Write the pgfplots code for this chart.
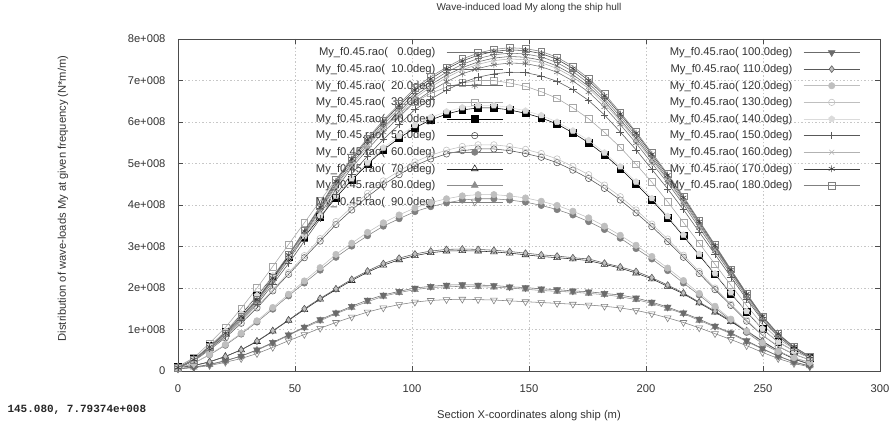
\documentclass[border=0pt]{standalone}
\usepackage{fontspec}
\setmainfont{Liberation Sans}
\newfontfamily\readoutfont{Liberation Mono}
\usepackage{pgfplots}
\usepackage{pgfplotstable}
\pgfplotsset{compat=1.18}

% Section loads My (units of 1e8 N*m/m), headings 0--90 deg
\pgfplotstableread{
x      d0   d10  d20  d30  d40  d50  d60  d70  d80  d90
0      0.08 0.08 0.07 0.11 0.10 0.08 0.06 0.09 0.06 0.05
6.75   0.27 0.27 0.26 0.32 0.29 0.24 0.19 0.13 0.09 0.08
13.5   0.57 0.57 0.56 0.67 0.60 0.51 0.39 0.22 0.15 0.13
20.25  0.90 0.89 0.87 1.05 0.95 0.80 0.62 0.35 0.24 0.21
27     1.30 1.29 1.26 1.51 1.36 1.15 0.89 0.51 0.36 0.30
33.75  1.70 1.68 1.65 2.00 1.81 1.52 1.18 0.71 0.50 0.42
40.5   2.22 2.20 2.15 2.52 2.28 1.93 1.49 0.96 0.67 0.57
47.25  2.76 2.73 2.67 3.05 2.76 2.33 1.81 1.22 0.86 0.73
54     3.33 3.30 3.23 3.57 3.23 2.73 2.12 1.48 1.04 0.88
60.75  3.91 3.87 3.78 4.10 3.71 3.13 2.43 1.73 1.21 1.03
67.5   4.52 4.47 4.38 4.62 4.18 3.53 2.74 1.96 1.38 1.17
74.25  5.06 5.00 4.90 5.08 4.60 3.88 3.01 2.18 1.53 1.30
81     5.52 5.46 5.34 5.50 4.98 4.20 3.26 2.38 1.67 1.42
87.75  5.94 5.87 5.75 5.88 5.33 4.49 3.49 2.55 1.80 1.52
94.5   6.32 6.25 6.12 6.20 5.61 4.73 3.67 2.68 1.89 1.60
101.25 6.70 6.63 6.49 6.48 5.86 4.95 3.84 2.78 1.96 1.66
108    6.97 6.90 6.75 6.69 6.05 5.11 3.96 2.85 2.01 1.70
114.75 7.20 7.13 6.97 6.84 6.19 5.23 4.05 2.89 2.03 1.72
121.5  7.39 7.31 7.16 6.94 6.29 5.31 4.12 2.90 2.04 1.73
128.25 7.53 7.45 7.29 7.00 6.34 5.35 4.15 2.89 2.03 1.72
135    7.62 7.54 7.38 7.00 6.34 5.35 4.15 2.87 2.02 1.71
141.75 7.66 7.58 7.42 6.94 6.29 5.31 4.12 2.84 2.00 1.69
148.5  7.64 7.56 7.41 6.86 6.21 5.24 4.07 2.80 1.97 1.67
155.25 7.57 7.49 7.33 6.73 6.10 5.15 3.99 2.76 1.94 1.65
162    7.43 7.35 7.20 6.57 5.95 5.02 3.89 2.73 1.92 1.63
168.75 7.22 7.14 6.99 6.34 5.74 4.84 3.76 2.70 1.90 1.61
175.5  6.93 6.86 6.72 6.08 5.50 4.64 3.60 2.66 1.87 1.59
182.25 6.56 6.50 6.36 5.75 5.21 4.40 3.41 2.57 1.84 1.56
189    6.13 6.06 5.94 5.39 4.88 4.12 3.20 2.48 1.79 1.52
195.75 5.67 5.61 5.49 4.98 4.51 3.81 2.95 2.36 1.72 1.46
202.5  5.17 5.12 5.01 4.55 4.12 3.48 2.70 2.22 1.63 1.38
209.25 4.67 4.62 4.53 4.08 3.70 3.12 2.42 2.04 1.51 1.28
216    4.14 4.09 4.01 3.58 3.25 2.74 2.12 1.86 1.38 1.17
222.75 3.56 3.52 3.45 3.08 2.79 2.35 1.83 1.64 1.22 1.04
229.5  2.99 2.96 2.89 2.57 2.33 1.96 1.52 1.42 1.06 0.90
236.25 2.41 2.39 2.34 2.07 1.87 1.58 1.22 1.19 0.90 0.76
243    1.84 1.82 1.78 1.58 1.43 1.20 0.93 0.96 0.71 0.61
249.75 1.30 1.29 1.26 1.12 1.01 0.86 0.66 0.71 0.53 0.45
256.5  0.88 0.87 0.85 0.77 0.70 0.59 0.46 0.48 0.36 0.30
263.25 0.57 0.57 0.56 0.53 0.48 0.40 0.31 0.29 0.21 0.18
270    0.34 0.34 0.33 0.35 0.32 0.27 0.21 0.16 0.12 0.10
}\tabA

% Headings 100--180 deg
\pgfplotstableread{
x      d100 d110 d120 d130 d140 d150 d160 d170 d180
0      0.06 0.09 0.06 0.08 0.10 0.07 0.08 0.08 0.08
6.75   0.09 0.13 0.19 0.25 0.29 0.25 0.26 0.27 0.27
13.5   0.16 0.22 0.40 0.52 0.61 0.54 0.56 0.58 0.58
20.25  0.25 0.35 0.64 0.82 0.96 0.84 0.88 0.91 0.91
27     0.36 0.51 0.91 1.17 1.38 1.22 1.28 1.32 1.32
33.75  0.51 0.72 1.21 1.55 1.82 1.60 1.67 1.72 1.73
40.5   0.69 0.97 1.53 1.96 2.30 2.09 2.18 2.24 2.26
47.25  0.87 1.23 1.85 2.37 2.78 2.59 2.71 2.79 2.80
54     1.06 1.50 2.17 2.78 3.26 3.13 3.27 3.37 3.39
60.75  1.24 1.75 2.49 3.19 3.74 3.67 3.84 3.95 3.97
67.5   1.40 1.98 2.81 3.60 4.22 4.25 4.44 4.57 4.60
74.25  1.56 2.21 3.08 3.95 4.64 4.75 4.96 5.11 5.14
81     1.71 2.41 3.34 4.28 5.02 5.18 5.41 5.57 5.61
87.75  1.83 2.59 3.57 4.58 5.38 5.58 5.83 6.00 6.04
94.5   1.92 2.72 3.76 4.82 5.66 5.94 6.20 6.39 6.43
101.25 2.00 2.82 3.93 5.04 5.92 6.30 6.58 6.77 6.82
108    2.04 2.89 4.06 5.20 6.11 6.55 6.84 7.04 7.09
114.75 2.07 2.93 4.15 5.32 6.25 6.77 7.07 7.28 7.32
121.5  2.08 2.94 4.22 5.41 6.35 6.95 7.26 7.47 7.52
128.25 2.07 2.93 4.25 5.45 6.40 7.08 7.39 7.61 7.66
135    2.06 2.91 4.25 5.45 6.40 7.16 7.48 7.70 7.75
141.75 2.03 2.88 4.22 5.41 6.35 7.20 7.52 7.74 7.79
148.5  2.01 2.84 4.17 5.34 6.27 7.19 7.50 7.72 7.77
155.25 1.98 2.80 4.09 5.24 6.16 7.11 7.43 7.65 7.70
162    1.96 2.77 3.99 5.11 6.00 6.98 7.29 7.51 7.56
168.75 1.93 2.73 3.85 4.93 5.79 6.78 7.08 7.29 7.34
175.5  1.91 2.70 3.69 4.73 5.56 6.52 6.81 7.00 7.05
182.25 1.87 2.60 3.49 4.48 5.26 6.17 6.44 6.63 6.68
189    1.83 2.51 3.27 4.20 4.93 5.76 6.02 6.19 6.23
195.75 1.76 2.40 3.03 3.88 4.56 5.33 5.56 5.73 5.76
202.5  1.66 2.25 2.76 3.54 4.16 4.86 5.08 5.22 5.26
209.25 1.54 2.07 2.48 3.18 3.73 4.39 4.59 4.72 4.75
216    1.40 1.88 2.18 2.79 3.28 3.89 4.06 4.18 4.21
222.75 1.25 1.66 1.87 2.40 2.82 3.35 3.50 3.60 3.62
229.5  1.08 1.44 1.56 2.00 2.35 2.81 2.93 3.02 3.04
236.25 0.92 1.21 1.25 1.61 1.89 2.27 2.37 2.44 2.45
243    0.73 0.97 0.96 1.23 1.44 1.73 1.80 1.86 1.87
249.75 0.54 0.72 0.68 0.87 1.02 1.22 1.28 1.32 1.32
256.5  0.36 0.49 0.47 0.60 0.70 0.83 0.86 0.89 0.90
263.25 0.22 0.29 0.32 0.41 0.48 0.54 0.56 0.58 0.58
270    0.12 0.16 0.21 0.27 0.32 0.32 0.34 0.35 0.35
}\tabB

\newcommand{\lblfont}{\fontsize{11.2}{13}\selectfont}

\pgfplotsset{
  every axis plot/.append style={line width=0.55pt},
  h0/.style={black!55, mark=+, mark size=3.5pt},
  h10/.style={black!62, mark=x, mark size=3.4pt},
  h20/.style={black!58, mark=asterisk, mark size=3.4pt},
  h30/.style={black!35, mark=square, mark size=3.4pt},
  h40/.style={black, mark=square*, mark size=3.4pt},
  h50/.style={black!68, mark=o, mark size=3.2pt},
  h60/.style={black!50, mark=*, mark size=3.2pt},
  h70/.style={black!85, mark=triangle, mark size=3.9pt},
  h80/.style={black!45, mark=triangle*, mark size=3.9pt},
  h90/.style={black!50, mark=triangle, mark size=3.9pt, mark options={rotate=180}},
  h100/.style={black!58, mark=triangle*, mark size=3.9pt, mark options={rotate=180}},
  h110/.style={black!65, mark=diamond*, mark size=3.4pt, mark options={fill=black!25}},
  h120/.style={black!25, mark=*, mark size=3.2pt},
  h130/.style={black!25, mark=o, mark size=3.2pt},
  h140/.style={black!14, mark=pentagon*, mark size=3.2pt},
  h150/.style={black!65, mark=+, mark size=3.8pt},
  h160/.style={black!30, mark=x, mark size=3.4pt},
  h170/.style={black!75, mark=asterisk, mark size=3.4pt},
  h180/.style={black!50, mark=square, mark size=3.4pt},
  frame/.style={
    at={(0pt,0pt)}, anchor=south west,
    scale only axis, width=702pt, height=332pt,
    xmin=0, xmax=300, ymin=0, ymax=8,
    clip=false,
    legend plot pos=right,
    legend cell align=right,
    legend image code/.code={\draw[mark repeat=2,mark phase=2]
      plot coordinates {(0pt,0pt) (28pt,0pt) (56pt,0pt)};},
    legend style={draw=none, fill=none, inner xsep=0pt, inner ysep=0pt,
      outer sep=0pt, font=\lblfont, text=black!80, anchor=north east,
      row sep=7pt, column sep=11pt,
      nodes={inner sep=0pt}},
  },
}

\begin{document}
\begin{tikzpicture}
\useasboundingbox (-178pt,-54pt) rectangle (711pt,371pt);
\begin{axis}[
  frame,
  xtick={0,50,...,300}, ytick={0,1,...,8},
  yticklabels={0,1e+008,2e+008,3e+008,4e+008,5e+008,6e+008,7e+008,8e+008},
  /pgf/number format/assume math mode=true,
  tick align=inside, major tick length=5pt,
  tick style={black!70, line width=0.6pt},
  axis line style={black!70, line width=0.7pt},
  grid=major,
  major grid style={black!22, line width=0.4pt, dash pattern=on 1.5pt off 2pt},
  tick label style={font=\lblfont, text=black!80},
  xticklabel style={yshift=-10pt},
  yticklabel style={xshift=-9pt},
  title={Wave-induced load My along the ship hull},
  title style={font=\fontsize{10}{12}\selectfont, text=black!80,
    at={(axis description cs:0.5,1.0753)}, anchor=center},
  xlabel={Section X-coordinates along ship (m)},
  xlabel style={font=\lblfont, text=black!80,
    at={(axis description cs:0.5,-0.1355)}, anchor=center},
  ylabel={Distribution of wave-loads My at given frequency (N*m/m)},
  ylabel style={font=\lblfont, text=black!80,
    at={(axis description cs:-0.164,0.52)}, anchor=center},
  legend style={at={(axis description cs:0.4630,0.9738)}},
]
\addplot[h0]  table[x=x, y=d0]  {\tabA}; \addlegendentry{My\_f0.45.rao(\ \ \ 0.0deg)}
\addplot[h10] table[x=x, y=d10] {\tabA}; \addlegendentry{My\_f0.45.rao(\ \ 10.0deg)}
\addplot[h20] table[x=x, y=d20] {\tabA}; \addlegendentry{My\_f0.45.rao(\ \ 20.0deg)}
\addplot[h30] table[x=x, y=d30] {\tabA}; \addlegendentry{My\_f0.45.rao(\ \ 30.0deg)}
\addplot[h40] table[x=x, y=d40] {\tabA}; \addlegendentry{My\_f0.45.rao(\ \ 40.0deg)}
\addplot[h50] table[x=x, y=d50] {\tabA}; \addlegendentry{My\_f0.45.rao(\ \ 50.0deg)}
\addplot[h60] table[x=x, y=d60] {\tabA}; \addlegendentry{My\_f0.45.rao(\ \ 60.0deg)}
\addplot[h70] table[x=x, y=d70] {\tabA}; \addlegendentry{My\_f0.45.rao(\ \ 70.0deg)}
\addplot[h80] table[x=x, y=d80] {\tabA}; \addlegendentry{My\_f0.45.rao(\ \ 80.0deg)}
\addplot[h90] table[x=x, y=d90] {\tabA}; \addlegendentry{My\_f0.45.rao(\ \ 90.0deg)}
\end{axis}

\begin{axis}[
  frame, hide axis,
  legend style={at={(axis description cs:0.9715,0.9738)}},
]
\addplot[h100] table[x=x, y=d100] {\tabB}; \addlegendentry{My\_f0.45.rao( 100.0deg)}
\addplot[h110] table[x=x, y=d110] {\tabB}; \addlegendentry{My\_f0.45.rao( 110.0deg)}
\addplot[h120] table[x=x, y=d120] {\tabB}; \addlegendentry{My\_f0.45.rao( 120.0deg)}
\addplot[h130] table[x=x, y=d130] {\tabB}; \addlegendentry{My\_f0.45.rao( 130.0deg)}
\addplot[h140] table[x=x, y=d140] {\tabB}; \addlegendentry{My\_f0.45.rao( 140.0deg)}
\addplot[h150] table[x=x, y=d150] {\tabB}; \addlegendentry{My\_f0.45.rao( 150.0deg)}
\addplot[h160] table[x=x, y=d160] {\tabB}; \addlegendentry{My\_f0.45.rao( 160.0deg)}
\addplot[h170] table[x=x, y=d170] {\tabB}; \addlegendentry{My\_f0.45.rao( 170.0deg)}
\addplot[h180] table[x=x, y=d180] {\tabB}; \addlegendentry{My\_f0.45.rao( 180.0deg)}
\end{axis}

\node[anchor=west, text=black!85,
  font=\readoutfont\fontsize{11}{13}\selectfont\bfseries]
  at (-174pt,-39pt) {145.080, 7.79374e+008};
\end{tikzpicture}
\end{document}
